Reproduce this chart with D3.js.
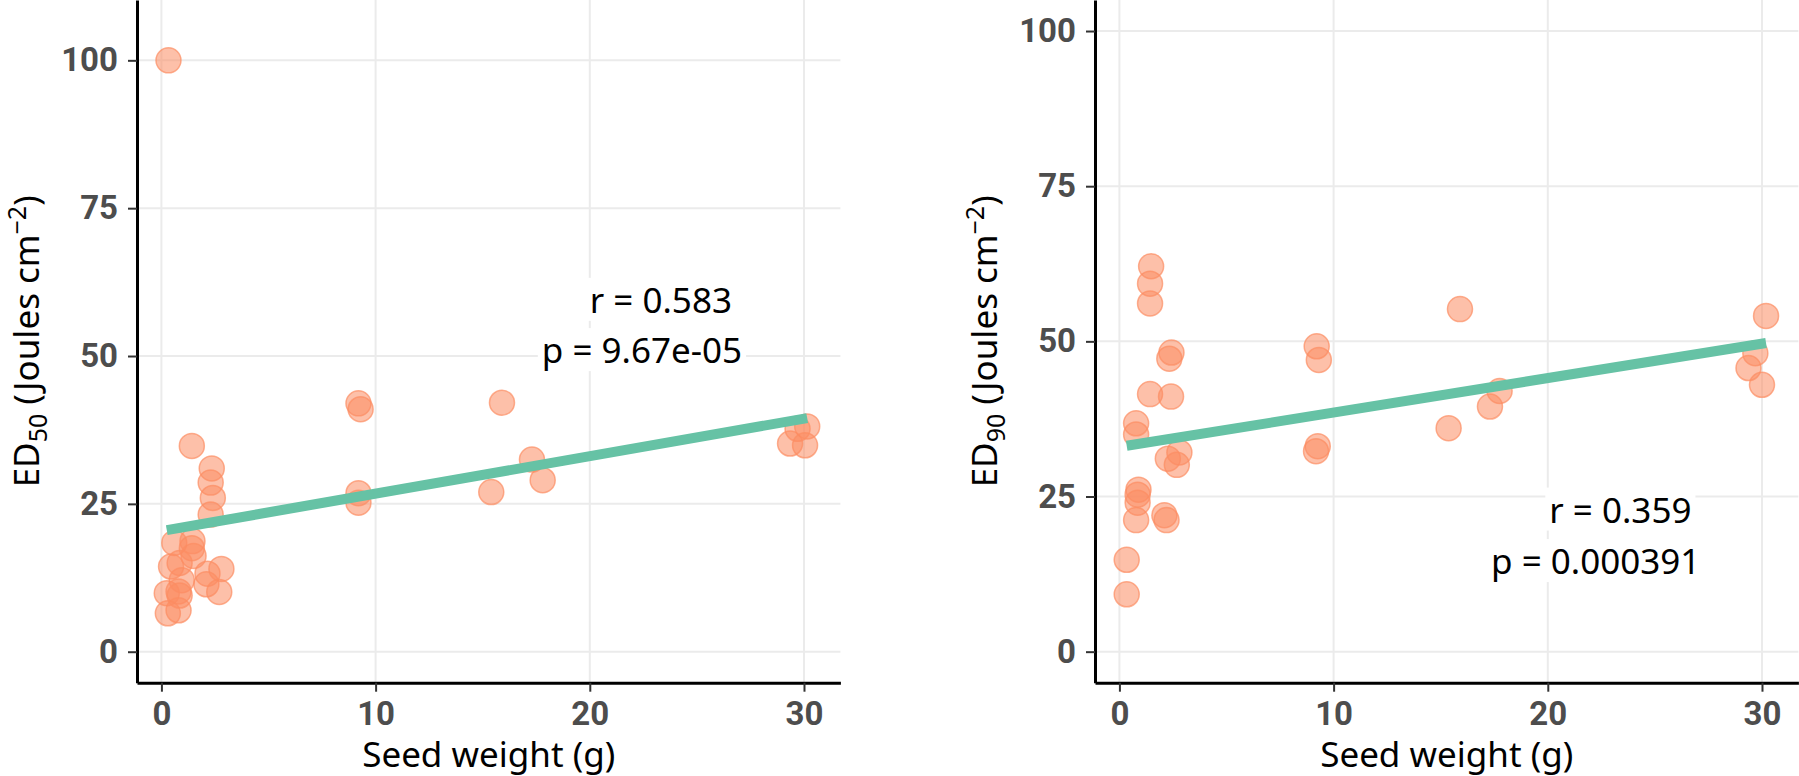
<!DOCTYPE html>
<html>
<head>
<meta charset="utf-8">
<script src="https://cdn.jsdelivr.net/npm/d3@7"></script>
<style>
  html, body { margin: 0; padding: 0; background: #fff; }
  svg { display: block; }
</style>
</head>
<body>
<svg id="chart" width="1799" height="776"></svg>
<script>
// ---------------- data ----------------
const xTicks = [0, 10, 20, 30];
const yTicks = [0, 25, 50, 75, 100];

// Panel A: ED50 vs seed weight
const seedA = [0.33, 1.42, 2.35, 2.3, 2.4, 2.3, 0.6, 1.45, 1.42, 1.5, 0.85, 0.45, 0.95, 2.15, 2.8, 2.1, 2.7, 0.25, 0.8, 0.85, 0.3, 0.8,
               9.2, 9.3, 9.2, 9.2, 15.9, 17.3, 17.8, 15.4, 30.15, 29.7, 29.35, 30.05];
const ed50  = [100, 34.8, 31.0, 28.6, 26.0, 23.2, 18.4, 18.7, 17.5, 16.2, 15.0, 14.4, 12.1, 13.2, 14.0, 11.4, 10.1, 9.9, 10.2, 9.5, 6.5, 7.0,
               42.0, 41.0, 26.8, 25.2, 42.1, 32.5, 29.0, 27.0, 38.1, 37.7, 35.2, 34.9];
const fitA = [20.39, 0.634];           // intercept, slope
const statsA = ["r = 0.583", "p = 9.67e-05"];
const statsPosA = [[20.0, 57.3], [17.76, 48.8]];

// Panel B: ED90 vs seed weight
const seedB = [1.48, 1.43, 1.43, 2.43, 2.33, 9.21, 9.31, 1.43, 2.41, 0.78, 0.78, 2.26, 2.8, 2.68, 9.26, 9.18, 0.89, 0.85, 0.85, 0.78, 2.1, 2.2,
               0.34, 0.34, 15.9, 30.19, 29.69, 29.37, 30.0, 17.75, 17.3, 15.37];
const ed90  = [62.1, 59.3, 56.1, 48.2, 47.2, 49.2, 47.0, 41.5, 41.1, 36.8, 35.0, 31.1, 32.1, 30.1, 33.1, 32.3, 26.1, 25.3, 24.0, 21.2, 22.0, 21.2,
               14.8, 9.25, 55.2, 54.1, 48.1, 45.7, 43.0, 42.0, 39.5, 36.0];
const fitB = [32.98, 0.555];
const statsB = ["r = 0.359", "p = 0.000391"];
const statsPosB = [[20.07, 20.8], [17.35, 12.5]];

const xTitle = "Seed weight (g)";
const yTitleSub = ["50", "90"];

// ---------------- drawing ----------------
const svg = d3.select("#chart");
const pointColor = "#fc8d62";
const lineColor = "#66c2a5";
const axisY = 682.7;

const panels = [
  { xs: seedA, ys: ed50, fit: fitA, stats: statsA, statsPos: statsPosA, sub: yTitleSub[0],
    xRange: [137, 840.4], yDomain: [-5.24, 110.2] },
  { xs: seedB, ys: ed90, fit: fitB, stats: statsB, statsPos: statsPosB, sub: yTitleSub[1],
    xRange: [1095, 1798.4], yDomain: [-5, 105] }
];

panels.forEach(p => {
  const x = d3.scaleLinear().domain([-1.14, 31.7]).range(p.xRange);
  const y = d3.scaleLinear().domain(p.yDomain).range([axisY, 0]);
  const g = svg.append("g");

  // grid
  g.selectAll("line.gy").data(yTicks).join("line")
    .attr("x1", p.xRange[0]).attr("x2", p.xRange[1])
    .attr("y1", d => y(d)).attr("y2", d => y(d))
    .attr("stroke", "#ebebeb").attr("stroke-width", 2);
  g.selectAll("line.gx").data(xTicks).join("line")
    .attr("x1", d => x(d)).attr("x2", d => x(d))
    .attr("y1", 0).attr("y2", axisY)
    .attr("stroke", "#ebebeb").attr("stroke-width", 2);

  // points
  const pts = p.xs.map((v, i) => [v, p.ys[i]]);
  g.selectAll("circle").data(pts).join("circle")
    .attr("cx", d => x(d[0])).attr("cy", d => y(d[1]))
    .attr("r", 12.5)
    .attr("fill", pointColor).attr("fill-opacity", 0.55)
    .attr("stroke", pointColor).attr("stroke-opacity", 0.7).attr("stroke-width", 1.5);

  // fit line
  const xmin = d3.min(p.xs), xmax = d3.max(p.xs);
  g.append("line")
    .attr("x1", x(xmin)).attr("y1", y(p.fit[0] + p.fit[1] * xmin))
    .attr("x2", x(xmax)).attr("y2", y(p.fit[0] + p.fit[1] * xmax))
    .attr("stroke", lineColor).attr("stroke-width", 10);

  // stat labels
  p.stats.forEach((s, i) => {
    const t = g.append("text")
      .attr("x", x(p.statsPos[i][0])).attr("y", y(p.statsPos[i][1]))
      .attr("font-family", "'Noto Sans', 'Open Sans', sans-serif")
      .attr("font-size", 35).attr("fill", "#000")
      .text(s);
    const bb = t.node().getBBox();
    g.insert("rect", () => t.node())
      .attr("x", bb.x - 4).attr("y", bb.y + 2)
      .attr("width", bb.width + 8).attr("height", bb.height - 4)
      .attr("fill", "#fff");
  });

  // axes
  const xAxis = d3.axisBottom(x).tickValues(xTicks).tickSize(9).tickSizeOuter(0).tickPadding(10);
  const yAxis = d3.axisLeft(y).tickValues(yTicks).tickSize(9).tickSizeOuter(0).tickPadding(10);
  const gx = g.append("g").attr("transform", `translate(0,${axisY})`).call(xAxis);
  const gy = g.append("g").attr("transform", `translate(${p.xRange[0]},0)`).call(yAxis);
  [gx, gy].forEach(a => {
    a.select(".domain").attr("stroke", "#000").attr("stroke-width", 3);
    a.selectAll(".tick line").attr("stroke", "#333").attr("stroke-width", 2);
    a.selectAll(".tick text")
      .attr("font-family", "Roboto, 'Liberation Sans', sans-serif")
      .attr("font-weight", "bold").attr("font-size", 33).attr("fill", "#4d4d4d");
  });

  // x title
  g.append("text")
    .attr("x", (p.xRange[0] + p.xRange[1]) / 2).attr("y", 767)
    .attr("text-anchor", "middle")
    .attr("font-family", "'Noto Sans', 'Open Sans', sans-serif")
    .attr("font-size", 35).attr("fill", "#000")
    .text(xTitle);

  // y title
  const yt = g.append("text")
    .attr("transform", `translate(${p.xRange[0] - 98},${axisY / 2}) rotate(-90)`)
    .attr("text-anchor", "middle")
    .attr("font-family", "'Noto Sans', 'Open Sans', sans-serif")
    .attr("font-size", 35).attr("fill", "#000");
  yt.append("tspan").text("ED");
  yt.append("tspan").attr("dy", 8).attr("font-size", 25).text(p.sub);
  yt.append("tspan").attr("dy", -8).text(" (Joules cm");
  yt.append("tspan").attr("dy", -13).attr("font-size", 25).text("\u2212" + "2");
  yt.append("tspan").attr("dy", 13).text(")");
});
</script>
</body>
</html>
